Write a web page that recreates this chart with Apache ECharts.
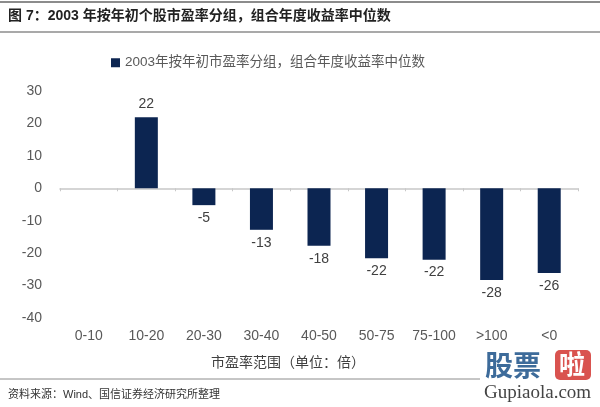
<!DOCTYPE html>
<html><head><meta charset="utf-8">
<script src="https://cdn.jsdelivr.net/npm/echarts@6/dist/echarts.min.js"></script>
<style>html,body{margin:0;padding:0;background:#fff}#c{width:600px;height:407px}</style>
</head><body><div id="c"></div>
<script>
var categories = ['0-10','10-20','20-30','30-40','40-50','50-75','75-100','>100','<0'];
var values = [null, 21.9, -5.2, -12.8, -17.7, -21.6, -22.0, -28.3, -26.1];
var seriesName = '2003年按年初市盈率分组，组合年度收益率中位数';
var yTicks = {min: -40, max: 30, interval: 10};
var titleText = '图 7：2003 年按年初个股市盈率分组，组合年度收益率中位数';
var sourceText = '资料来源：Wind、国信证券经济研究所整理';
var xName = '市盈率范围（单位：倍）';

var FONT = '"Liberation Sans", Arial, "Noto Sans CJK SC", sans-serif';
var chart = echarts.init(document.getElementById('c'), null, {renderer: 'canvas'});
var baseGraphic = [
  {type: 'line', shape: {x1: 0, y1: 2, x2: 600, y2: 2}, style: {stroke: '#8c8c8c', lineWidth: 2}},
  {type: 'line', shape: {x1: 0, y1: 32, x2: 600, y2: 32}, style: {stroke: '#8c8c8c', lineWidth: 1.5}},
  {type: 'text', left: 8, top: 9, style: {text: titleText, font: 'bold 14px ' + FONT, fill: '#222'}},
  {type: 'line', shape: {x1: 0, y1: 379, x2: 480, y2: 379}, style: {stroke: '#8c8c8c', lineWidth: 1}},
  {type: 'text', left: 8, top: 389, style: {text: sourceText, font: '11px ' + FONT, fill: '#333'}},
  {type: 'text', x: 288, y: 362, style: {text: xName, font: '14px "Noto Sans CJK SC", sans-serif', fill: '#404040', align: 'center', verticalAlign: 'middle'}},
  {type: 'text', x: 485, y: 351, style: {text: '股票', font: 'bold 28px "Noto Sans CJK SC", sans-serif', fill: '#3d6b9a'}},
  {type: 'rect', shape: {x: 555, y: 350, width: 36, height: 30, r: 5}, style: {fill: '#d9534f'}},
  {type: 'text', x: 559, y: 351, style: {text: '啦', font: 'bold 26px "Noto Sans CJK SC", sans-serif', fill: '#fff'}},
  {type: 'text', x: 484, y: 384, style: {text: 'Gupiaola.com', font: '19px "Liberation Serif", "DejaVu Serif", serif', fill: '#444'}}
];
chart.setOption({
  animation: false,
  backgroundColor: '#fff',
  textStyle: {fontFamily: FONT},
  legend: {
    top: 51, left: 106,
    itemWidth: 9, itemHeight: 9, itemGap: 3,
    icon: 'rect',
    textStyle: {fontSize: 13.5, color: '#595959', fontFamily: FONT},
    data: [seriesName]
  },
  grid: {left: 60, right: 22, top: 91, bottom: 89, containLabel: false},
  xAxis: {
    type: 'category', data: categories,
    axisLine: {onZero: true, lineStyle: {color: '#c8c8c8', width: 1.5}},
    axisTick: {show: true, length: 3, lineStyle: {color: '#c8c8c8'}},
    axisLabel: {show: false}
  },
  yAxis: {
    type: 'value', min: yTicks.min, max: yTicks.max, interval: yTicks.interval,
    axisLine: {show: false}, axisTick: {show: false}, splitLine: {show: false},
    axisLabel: {color: '#595959', fontSize: 14, margin: 18, fontFamily: FONT}
  },
  series: [{
    name: seriesName, type: 'bar', data: values, barWidth: 23,
    itemStyle: {color: '#0c2551'},
    label: {show: true, position: 'outside', distance: 6, color: '#404040', fontSize: 14, fontFamily: FONT,
      formatter: function(p){ return p.value == null ? '' : Math.round(p.value); }}
  }],
  graphic: baseGraphic
});
var labelGraphics = categories.map(function(c, i){
  var px = chart.convertToPixel({xAxisIndex: 0}, c);
  return {type: 'text', x: px, y: 336, style: {text: c, font: '14px ' + FONT, fill: '#595959', align: 'center', verticalAlign: 'middle'}};
});
chart.setOption({graphic: baseGraphic.concat(labelGraphics)}, {replaceMerge: ['graphic']});
</script></body></html>
